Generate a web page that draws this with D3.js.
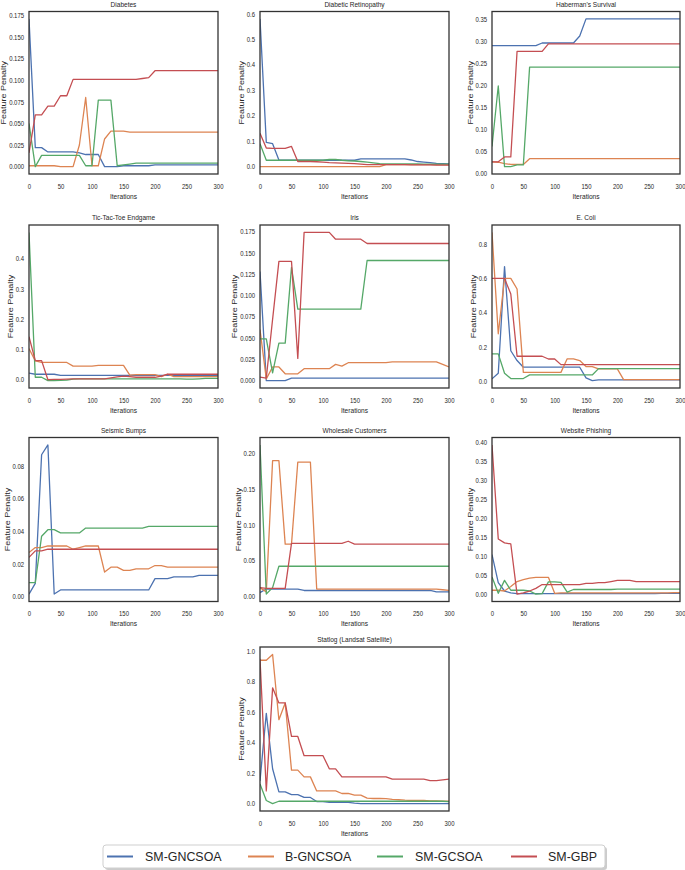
<!DOCTYPE html>
<html><head><meta charset="utf-8">
<script src="https://cdn.jsdelivr.net/npm/d3@7"></script>
<style>
body{margin:0;background:#fff}
svg{display:block}
text{font-family:"Liberation Sans",Arial,sans-serif;fill:#262626}
</style>
</head><body>
<svg id="chart" width="685" height="870"></svg>
<script>
// ---------------- DATA ----------------
const iterations = [0,10,20,30,40,50,60,70,80,90,100,110,120,130,140,150,160,170,180,190,200,210,220,230,240,250,260,270,280,290,300];
const methods = ["SM-GNCSOA","B-GNCSOA","SM-GCSOA","SM-GBP"];
const xTicks = [0,50,100,150,200,250,300];

// Diabetes
const diabetes_smgncsoa = [0.171,0.022,0.022,0.017,0.017,0.017,0.017,0.017,0.016,0.014,0.014,0.014,0.000,0.000,0.000,0.001,0.001,0.001,0.001,0.001,0.002,0.002,0.002,0.002,0.002,0.002,0.002,0.002,0.002,0.002,0.002];
const diabetes_bgncsoa  = [0.001,0.001,0.001,0.001,0.001,0.000,0.000,0.000,0.025,0.080,0.001,0.001,0.032,0.041,0.041,0.041,0.040,0.040,0.040,0.040,0.040,0.040,0.040,0.040,0.040,0.040,0.040,0.040,0.040,0.040,0.040];
const diabetes_smgcsoa  = [0.050,0.000,0.013,0.013,0.013,0.013,0.013,0.013,0.013,0.001,0.001,0.077,0.077,0.077,0.001,0.002,0.003,0.004,0.004,0.004,0.004,0.004,0.004,0.004,0.004,0.004,0.004,0.004,0.004,0.004,0.004];
const diabetes_smgbp    = [0.016,0.060,0.060,0.070,0.070,0.082,0.082,0.101,0.101,0.101,0.101,0.101,0.101,0.101,0.101,0.101,0.101,0.101,0.102,0.103,0.111,0.111,0.111,0.111,0.111,0.111,0.111,0.111,0.111,0.111,0.111];
const diabetesTicks = [0,0.025,0.05,0.075,0.1,0.125,0.15,0.175];

// Diabetic Retinopathy
const retino_smgncsoa = [0.580,0.095,0.090,0.026,0.025,0.025,0.025,0.025,0.025,0.025,0.025,0.025,0.025,0.025,0.025,0.025,0.030,0.030,0.030,0.030,0.030,0.030,0.030,0.030,0.026,0.020,0.018,0.016,0.013,0.012,0.011];
const retino_bgncsoa  = [0.000,0.000,0.000,0.000,0.000,0.000,0.000,0.000,0.000,0.000,0.000,0.000,0.000,0.000,0.000,0.000,0.000,0.000,0.000,0.000,0.008,0.008,0.008,0.008,0.008,0.008,0.008,0.008,0.008,0.008,0.008];
const retino_smgcsoa  = [0.090,0.025,0.025,0.025,0.025,0.025,0.025,0.025,0.025,0.025,0.025,0.028,0.028,0.025,0.023,0.022,0.020,0.018,0.015,0.012,0.011,0.011,0.011,0.011,0.011,0.011,0.010,0.010,0.010,0.010,0.010];
const retino_smgbp    = [0.131,0.073,0.072,0.072,0.072,0.079,0.020,0.020,0.020,0.019,0.018,0.016,0.015,0.014,0.013,0.012,0.010,0.008,0.008,0.008,0.008,0.008,0.008,0.008,0.007,0.007,0.007,0.007,0.006,0.006,0.006];
const retinoTicks = [0,0.1,0.2,0.3,0.4,0.5,0.6];

// Haberman's Survival
const haberman_smgncsoa = [0.290,0.290,0.290,0.290,0.290,0.290,0.290,0.290,0.296,0.296,0.296,0.296,0.296,0.296,0.312,0.351,0.351,0.351,0.351,0.351,0.351,0.351,0.351,0.351,0.351,0.351,0.351,0.351,0.351,0.351,0.351];
const haberman_bgncsoa  = [0.025,0.024,0.021,0.019,0.019,0.019,0.032,0.032,0.032,0.032,0.032,0.032,0.032,0.032,0.032,0.032,0.032,0.032,0.032,0.032,0.032,0.032,0.032,0.032,0.032,0.032,0.032,0.032,0.032,0.032,0.032];
const haberman_smgcsoa  = [0.060,0.198,0.014,0.014,0.018,0.018,0.241,0.241,0.241,0.241,0.241,0.241,0.241,0.241,0.241,0.241,0.241,0.241,0.241,0.241,0.241,0.241,0.241,0.241,0.241,0.241,0.241,0.241,0.241,0.241,0.241];
const haberman_smgbp    = [0.025,0.025,0.036,0.036,0.277,0.277,0.277,0.277,0.277,0.294,0.294,0.294,0.294,0.294,0.294,0.294,0.294,0.294,0.294,0.294,0.294,0.294,0.294,0.294,0.294,0.294,0.294,0.294,0.294,0.294,0.294];
const habermanTicks = [0,0.05,0.1,0.15,0.2,0.25,0.3,0.35];

// Tic-Tac-Toe Endgame
const tictac_smgncsoa = [0.022,0.018,0.018,0.018,0.018,0.014,0.014,0.014,0.014,0.014,0.014,0.014,0.014,0.014,0.014,0.014,0.014,0.014,0.014,0.014,0.014,0.014,0.014,0.014,0.014,0.014,0.014,0.014,0.014,0.014,0.014];
const tictac_bgncsoa  = [0.103,0.062,0.057,0.057,0.057,0.057,0.057,0.045,0.045,0.045,0.045,0.047,0.047,0.047,0.047,0.047,0.015,0.017,0.017,0.017,0.017,0.010,0.018,0.010,0.010,0.010,0.010,0.010,0.010,0.010,0.010];
const tictac_smgcsoa  = [0.487,0.008,0.008,-0.003,-0.003,-0.002,-0.001,0.002,0.003,0.003,0.003,0.003,0.003,0.003,0.003,0.003,0.003,0.003,0.003,0.003,0.003,0.003,0.003,0.003,0.003,0.002,0.002,0.003,0.004,0.004,0.004];
const tictac_smgbp    = [0.142,0.063,0.063,0.000,0.001,0.001,0.002,0.003,0.003,0.003,0.003,0.003,0.003,0.006,0.009,0.012,0.010,0.008,0.008,0.008,0.008,0.012,0.018,0.018,0.018,0.018,0.018,0.018,0.018,0.018,0.018];
const tictacTicks = [0,0.1,0.2,0.3,0.4];

// Iris
const iris_smgncsoa = [0.128,0.000,0.000,0.000,0.000,0.003,0.003,0.003,0.003,0.003,0.003,0.003,0.003,0.003,0.003,0.003,0.003,0.003,0.003,0.003,0.003,0.003,0.003,0.003,0.003,0.003,0.003,0.003,0.003,0.003,0.003];
const iris_bgncsoa  = [0.060,0.002,0.016,0.016,0.008,0.008,0.008,0.014,0.014,0.014,0.014,0.014,0.019,0.017,0.021,0.021,0.021,0.021,0.021,0.021,0.021,0.022,0.022,0.022,0.022,0.022,0.022,0.022,0.022,0.019,0.016];
const iris_smgcsoa  = [0.049,0.049,0.009,0.044,0.044,0.133,0.084,0.084,0.084,0.084,0.084,0.084,0.084,0.084,0.084,0.084,0.084,0.141,0.141,0.141,0.141,0.141,0.141,0.141,0.141,0.141,0.141,0.141,0.141,0.141,0.141];
const iris_smgbp    = [0.004,0.003,0.072,0.140,0.140,0.140,0.026,0.174,0.174,0.174,0.174,0.174,0.166,0.166,0.166,0.166,0.166,0.161,0.161,0.161,0.161,0.161,0.161,0.161,0.161,0.161,0.161,0.161,0.161,0.161,0.161];
const irisTicks = [0,0.025,0.05,0.075,0.1,0.125,0.15,0.175];

// E. Coli
const ecoli_smgncsoa = [0.014,0.047,0.669,0.178,0.121,0.082,0.082,0.082,0.082,0.082,0.082,0.082,0.082,0.082,0.082,0.020,0.004,0.008,0.008,0.008,0.008,0.008,0.008,0.008,0.008,0.008,0.008,0.008,0.008,0.008,0.008];
const ecoli_bgncsoa  = [0.868,0.277,0.600,0.600,0.538,0.052,0.052,0.052,0.052,0.052,0.052,0.052,0.131,0.131,0.121,0.086,0.086,0.072,0.072,0.072,0.072,0.010,0.010,0.010,0.010,0.010,0.010,0.010,0.010,0.010,0.010];
const ecoli_smgcsoa  = [0.160,0.160,0.047,0.016,0.016,0.016,0.037,0.037,0.037,0.037,0.037,0.037,0.037,0.037,0.037,0.037,0.037,0.074,0.074,0.074,0.074,0.074,0.074,0.074,0.074,0.074,0.074,0.074,0.074,0.074,0.074];
const ecoli_smgbp    = [0.600,0.600,0.600,0.509,0.146,0.146,0.146,0.146,0.146,0.130,0.130,0.097,0.097,0.097,0.097,0.097,0.097,0.097,0.097,0.097,0.097,0.097,0.097,0.097,0.097,0.097,0.097,0.097,0.097,0.097,0.097];
const ecoliTicks = [0,0.2,0.4,0.6,0.8];

// Seismic Bumps
const seismic_smgncsoa = [0.0015,0.008,0.087,0.093,0.0015,0.004,0.004,0.004,0.004,0.004,0.004,0.004,0.004,0.004,0.004,0.004,0.004,0.004,0.004,0.004,0.011,0.011,0.011,0.012,0.012,0.012,0.012,0.013,0.013,0.013,0.013];
const seismic_bgncsoa  = [0.027,0.030,0.030,0.031,0.031,0.031,0.031,0.029,0.030,0.031,0.031,0.031,0.015,0.018,0.018,0.016,0.016,0.017,0.017,0.017,0.019,0.019,0.018,0.018,0.018,0.018,0.018,0.018,0.018,0.018,0.018];
const seismic_smgcsoa  = [0.0085,0.0085,0.037,0.041,0.041,0.039,0.039,0.039,0.039,0.042,0.042,0.042,0.042,0.042,0.042,0.042,0.042,0.042,0.042,0.043,0.043,0.043,0.043,0.043,0.043,0.043,0.043,0.043,0.043,0.043,0.043];
const seismic_smgbp    = [0.024,0.028,0.028,0.029,0.029,0.029,0.029,0.029,0.029,0.029,0.029,0.029,0.029,0.029,0.029,0.029,0.029,0.029,0.029,0.029,0.029,0.029,0.029,0.029,0.029,0.029,0.029,0.029,0.029,0.029,0.029];
const seismicTicks = [0,0.02,0.04,0.06,0.08];

// Wholesale Customers
const wholesale_smgncsoa = [0.005,0.010,0.010,0.010,0.010,0.010,0.010,0.008,0.008,0.008,0.008,0.008,0.008,0.008,0.008,0.008,0.008,0.008,0.008,0.008,0.008,0.008,0.008,0.008,0.008,0.008,0.008,0.008,0.006,0.006,0.006];
const wholesale_bgncsoa  = [0.012,0.006,0.190,0.190,0.073,0.073,0.188,0.188,0.188,0.010,0.010,0.010,0.010,0.010,0.010,0.010,0.010,0.010,0.010,0.010,0.010,0.010,0.010,0.010,0.010,0.010,0.010,0.010,0.010,0.009,0.008];
const wholesale_smgcsoa  = [0.212,0.003,0.012,0.042,0.042,0.042,0.042,0.042,0.042,0.042,0.042,0.042,0.042,0.042,0.042,0.042,0.042,0.042,0.042,0.042,0.042,0.042,0.042,0.042,0.042,0.042,0.042,0.042,0.042,0.042,0.042];
const wholesale_smgbp    = [0.012,0.011,0.011,0.011,0.011,0.074,0.074,0.074,0.074,0.074,0.074,0.074,0.074,0.074,0.077,0.073,0.073,0.073,0.073,0.073,0.073,0.073,0.073,0.073,0.073,0.073,0.073,0.073,0.073,0.073,0.073];
const wholesaleTicks = [0,0.05,0.1,0.15,0.2];

// Website Phishing
const phishing_smgncsoa = [0.104,0.030,0.008,0.003,0.001,0.001,0.001,0.001,0.001,0.001,0.001,0.001,0.001,0.001,0.001,0.001,0.001,0.001,0.001,0.001,0.001,0.001,0.001,0.001,0.001,0.001,0.001,0.002,0.002,0.002,0.002];
const phishing_bgncsoa  = [0.010,0.010,0.008,0.020,0.033,0.038,0.042,0.044,0.044,0.044,0.002,0.003,0.003,0.003,0.003,0.003,0.003,0.003,0.003,0.003,0.003,0.003,0.003,0.003,0.003,0.003,0.003,0.003,0.003,0.004,0.004];
const phishing_smgcsoa  = [0.045,0.002,0.036,0.010,0.010,0.010,0.008,0.000,0.001,0.032,0.032,0.031,0.005,0.012,0.012,0.012,0.012,0.012,0.012,0.012,0.013,0.013,0.013,0.013,0.013,0.013,0.013,0.013,0.013,0.013,0.013];
const phishing_smgbp    = [0.393,0.145,0.135,0.132,0.000,0.003,0.008,0.015,0.025,0.025,0.025,0.025,0.025,0.025,0.025,0.028,0.028,0.030,0.030,0.033,0.036,0.036,0.036,0.033,0.033,0.033,0.033,0.033,0.033,0.033,0.033];
const phishingTicks = [0,0.05,0.1,0.15,0.2,0.25,0.3,0.35,0.4];

// Statlog (Landsat Satellite)
const statlog_smgncsoa = [0.149,0.592,0.228,0.077,0.077,0.059,0.059,0.040,0.040,0.013,0.012,0.008,0.008,0.008,0.008,0.003,0.000,0.000,0.000,0.000,0.000,0.000,0.000,0.000,0.000,0.000,0.000,0.000,0.000,0.000,0.000];
const statlog_bgncsoa  = [0.940,0.940,0.978,0.550,0.660,0.219,0.219,0.175,0.175,0.083,0.083,0.083,0.083,0.066,0.066,0.055,0.055,0.035,0.033,0.033,0.032,0.028,0.025,0.022,0.020,0.020,0.020,0.018,0.017,0.016,0.015];
const statlog_smgcsoa  = [0.129,0.020,0.000,0.015,0.015,0.015,0.015,0.015,0.015,0.015,0.015,0.015,0.015,0.015,0.015,0.015,0.015,0.015,0.015,0.015,0.015,0.015,0.015,0.015,0.015,0.015,0.015,0.015,0.015,0.015,0.013];
const statlog_smgbp    = [0.950,0.083,0.759,0.660,0.660,0.440,0.440,0.314,0.314,0.314,0.314,0.228,0.228,0.175,0.175,0.175,0.175,0.175,0.175,0.175,0.175,0.160,0.160,0.160,0.160,0.160,0.160,0.150,0.150,0.155,0.160];
const statlogTicks = [0,0.2,0.4,0.6,0.8,1.0];

const titles = ["Diabetes","Diabetic Retinopathy","Haberman's Survival","Tic-Tac-Toe Endgame","Iris","E. Coli","Seismic Bumps","Wholesale Customers","Website Phishing","Statlog (Landsat Satellite)"];

// ---------------- STYLE / LAYOUT ----------------
const colors = ["#4C72B0","#DD8452","#55A868","#C44E52"];
const SX = 0.85;
const colLeft = [29, 260, 492];
const colWidth = [189, 189, 188];
const rowTop = [11.5, 225, 437.5, 647];
const rowHeight = [162.5, 163, 164, 164];

const panels = [
  {title:titles[0], series:[diabetes_smgncsoa,diabetes_bgncsoa,diabetes_smgcsoa,diabetes_smgbp], ticks:diabetesTicks, fmt:".3f", col:0, row:0},
  {title:titles[1], series:[retino_smgncsoa,retino_bgncsoa,retino_smgcsoa,retino_smgbp], ticks:retinoTicks, fmt:".1f", col:1, row:0},
  {title:titles[2], series:[haberman_smgncsoa,haberman_bgncsoa,haberman_smgcsoa,haberman_smgbp], ticks:habermanTicks, fmt:".2f", col:2, row:0},
  {title:titles[3], series:[tictac_smgncsoa,tictac_bgncsoa,tictac_smgcsoa,tictac_smgbp], ticks:tictacTicks, fmt:".1f", col:0, row:1},
  {title:titles[4], series:[iris_smgncsoa,iris_bgncsoa,iris_smgcsoa,iris_smgbp], ticks:irisTicks, fmt:".3f", col:1, row:1},
  {title:titles[5], series:[ecoli_smgncsoa,ecoli_bgncsoa,ecoli_smgcsoa,ecoli_smgbp], ticks:ecoliTicks, fmt:".1f", col:2, row:1},
  {title:titles[6], series:[seismic_smgncsoa,seismic_bgncsoa,seismic_smgcsoa,seismic_smgbp], ticks:seismicTicks, fmt:".2f", col:0, row:2},
  {title:titles[7], series:[wholesale_smgncsoa,wholesale_bgncsoa,wholesale_smgcsoa,wholesale_smgbp], ticks:wholesaleTicks, fmt:".2f", col:1, row:2},
  {title:titles[8], series:[phishing_smgncsoa,phishing_bgncsoa,phishing_smgcsoa,phishing_smgbp], ticks:phishingTicks, fmt:".2f", col:2, row:2},
  {title:titles[9], series:[statlog_smgncsoa,statlog_bgncsoa,statlog_smgcsoa,statlog_smgbp], ticks:statlogTicks, fmt:".1f", col:1, row:3}
];

const svg = d3.select("#chart");

panels.forEach((p, i) => {
  const left = colLeft[p.col], w = colWidth[p.col];
  const top = rowTop[p.row], h = rowHeight[p.row];
  const x = d3.scaleLinear().domain([0, 300]).range([left, left + w]);
  const all = p.series.flat();
  const mn = d3.min(all), mx = d3.max(all), pad = (mx - mn) * 0.05;
  const y = d3.scaleLinear().domain([mn - pad, mx + pad]).range([top + h, top]);

  const g = svg.append("g");
  const clipId = "clip" + i;
  g.append("clipPath").attr("id", clipId).append("rect")
    .attr("x", left).attr("y", top).attr("width", w).attr("height", h);

  const line = d3.line().x((d, j) => x(iterations[j])).y(d => y(d));
  const lg = g.append("g").attr("clip-path", `url(#${clipId})`);
  p.series.forEach((s, k) => {
    lg.append("path").datum(s).attr("d", line)
      .attr("fill", "none").attr("stroke", colors[k])
      .attr("stroke-width", 1.3).attr("stroke-linejoin", "round");
  });

  // frame
  g.append("rect").attr("x", left).attr("y", top).attr("width", w).attr("height", h)
    .attr("fill", "none").attr("stroke", "#333").attr("stroke-width", 1.3);

  // y axis
  const ya = g.append("g").attr("transform", `translate(${left},0)`)
    .call(d3.axisLeft(y).tickValues(p.ticks).tickSize(0).tickPadding(5).tickFormat(d3.format(p.fmt)));
  ya.select(".domain").remove();
  ya.selectAll("text").attr("x", -5 / SX).attr("transform", `scale(${SX},1)`)
    .style("font-size", "7px").style("font-family", "'Liberation Sans',Arial,sans-serif").attr("fill", "#262626");

  // x axis
  const xa = g.append("g").attr("transform", `translate(0,${top + h})`)
    .call(d3.axisBottom(x).tickValues(xTicks).tickSize(0).tickPadding(10).tickFormat(d3.format("d")));
  xa.select(".domain").remove();
  xa.selectAll("text").attr("transform", `scale(${SX},1)`)
    .style("font-size", "7px").style("font-family", "'Liberation Sans',Arial,sans-serif").attr("fill", "#262626");

  // y label
  let minX = Infinity;
  ya.selectAll("text").each(function() { const b = this.getBoundingClientRect(); if (b.left < minX) minX = b.left; });
  const lx = minX - 2.8, cy = top + h / 2;
  g.append("text").attr("transform", `translate(${lx},${cy}) scale(${SX},1) rotate(-90)`)
    .attr("text-anchor", "middle").style("font-size", "9px").text("Feature Penalty");

  // x label
  g.append("text").attr("transform", `translate(${left + w / 2},${top + h + 24.5}) scale(${SX},1)`)
    .attr("text-anchor", "middle").style("font-size", "7.8px").text("Iterations");

  // title
  g.append("text").attr("transform", `translate(${left + w / 2},${top - 5}) scale(${SX},1)`)
    .attr("text-anchor", "middle").style("font-size", "7.7px").text(p.title);
});

// legend
const legX = [107, 248, 377, 511];
const legTextX = [145, 285, 415, 548];
const lgd = svg.append("g");
lgd.append("rect").attr("x", 105).attr("y", 847).attr("width", 502).attr("height", 23).attr("rx", 3)
  .attr("fill", "#999").attr("opacity", 0.5);
lgd.append("rect").attr("x", 103).attr("y", 845).attr("width", 502).attr("height", 23).attr("rx", 3)
  .attr("fill", "#fff").attr("stroke", "#cfcfcf").attr("stroke-width", 1);
methods.forEach((m, k) => {
  lgd.append("line").attr("x1", legX[k]).attr("x2", legX[k] + 26).attr("y1", 856.5).attr("y2", 856.5)
    .attr("stroke", colors[k]).attr("stroke-width", 2);
  lgd.append("text").attr("transform", `translate(${legTextX[k]},861) scale(0.92,1)`)
    .style("font-size", "13.5px").text(m);
});
</script>
</body></html>
